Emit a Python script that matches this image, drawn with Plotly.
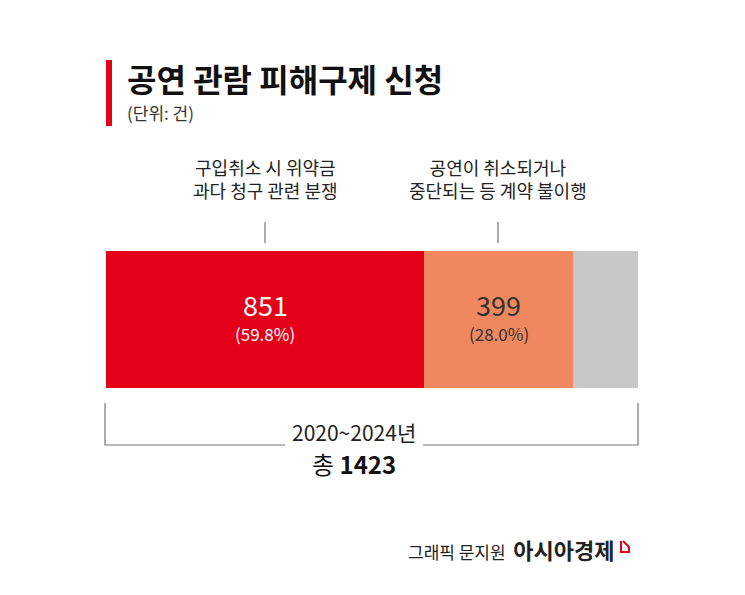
import plotly.graph_objects as go

categories = ["구입취소 시 위약금 과다 청구 관련 분쟁", "공연이 취소되거나 중단되는 등 계약 불이행", "기타"]
values = [851, 399, 173]
pct_labels = ["(59.8%)", "(28.0%)", ""]
colors = ["#e50019", "#f0875f", "#c8c8c8"]
total = 1423

OFF = 8
W, H = 745 - OFF, 595 - OFF
def px(x): return (x - OFF) / W
def py(y): return 1 - (y - OFF) / H

fig = go.Figure()
cum = 0
for c, v, p, col in zip(categories, values, pct_labels, colors):
    fig.add_trace(go.Bar(
        x=[v], y=[0], orientation="h", marker=dict(color=col, line=dict(width=0)),
        name=c, width=1, hoverinfo="skip",
    ))
    if p:
        tc = "white" if col == "#e50019" else "#333333"
        mid = cum + v / 2
        fig.add_annotation(x=mid, y=0.11, xref="x", yref="y", showarrow=False, yanchor="middle",
                           text=str(v), font=dict(size=27, color=tc))
        fig.add_annotation(x=mid, y=-0.1, xref="x", yref="y", showarrow=False, yanchor="middle",
                           text=p, font=dict(size=17, color=tc))
    cum += v

fig.update_layout(
    barmode="stack", width=W, height=H, margin=dict(l=0, r=0, t=0, b=0),
    paper_bgcolor="white", plot_bgcolor="white", showlegend=False, bargap=0,
    xaxis=dict(domain=[px(106), px(638)], range=[0, total], visible=False),
    yaxis=dict(domain=[py(388), py(251)], range=[-0.5, 0.5], visible=False),
    font=dict(family="Noto Sans CJK KR", color="#222222"),
)

ln = dict(color="#777", width=1.2)
shapes = [
    dict(type="rect", xref="paper", yref="paper", x0=px(106), x1=px(112), y0=py(126), y1=py(60),
         fillcolor="#e50019", line=dict(width=0)),
    dict(type="line", xref="paper", yref="paper", x0=px(265), x1=px(265), y0=py(243), y1=py(222), line=ln),
    dict(type="line", xref="paper", yref="paper", x0=px(498), x1=px(498), y0=py(243), y1=py(222), line=ln),
    dict(type="path", xref="paper", yref="paper",
         path=f"M {px(105)},{py(403)} L {px(105)},{py(445)} L {px(285)},{py(445)}", line=ln),
    dict(type="path", xref="paper", yref="paper",
         path=f"M {px(423)},{py(445)} L {px(638)},{py(445)} L {px(638)},{py(403)}", line=ln),
    dict(type="path", xref="paper", yref="paper",
         path=f"M {px(621)},{py(541)} L {px(621)},{py(552)} L {px(629)},{py(552)} L {px(629)},{py(547)} L {px(623)},{py(541)}",
         line=dict(color="#e50019", width=2)),
]
fig.update_layout(shapes=shapes)

def add(x, y, text, size, color="#222", xanchor="center"):
    fig.add_annotation(x=px(x), y=py(y), xref="paper", yref="paper", showarrow=False,
                       xanchor=xanchor, yanchor="middle", text=text, font=dict(size=size, color=color))

add(125, 78, "<b>공연 관람 피해구제 신청</b>", 32, "#111", "left")
add(125, 112, "(단위: 건)", 17, "#333", "left")
add(265, 178, "구입취소 시 위약금<br>과다 청구 관련 분쟁", 18)
add(498, 178, "공연이 취소되거나<br>중단되는 등 계약 불이행", 18)
add(354, 432, "2020~2024년", 21)
add(354, 463, f"총 <b>{total}</b>", 24, "#111")
add(616, 549, "그래픽 문지원  <b><span style='font-size:22px'>아시아경제</span></b>", 17, "#222", "right")

fig.write_html("out.html")
